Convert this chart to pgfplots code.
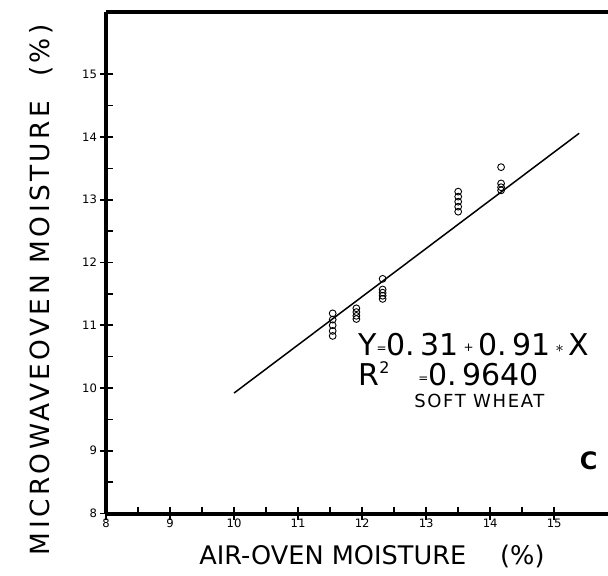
\documentclass[border=0pt]{standalone}
\usepackage{fontspec}
\setmainfont{DejaVu Sans}
\newfontfamily\labfont[LetterSpace=13]{DejaVu Sans}
\newfontfamily\smallfont[LetterSpace=9]{DejaVu Sans}
\usepackage{pgfplots}
\pgfplotsset{compat=1.18}

% one picture pixel = 0.5pt; axis origin sits at pixel (106,513.5)
\begin{document}
\begin{tikzpicture}[x=1pt,y=1pt]
\useasboundingbox (-53,-30.75) rectangle (251,256.75);
\begin{axis}[
    at={(0,0)}, anchor=south west,
    scale only axis, width=251pt, height=251pt,
    xmin=8, xmax=15.84, ymin=8, ymax=16,
    axis x line*=bottom, axis y line*=left,
    axis line style={line width=2pt, black},
    xtick={8,...,15}, ytick={8,...,15},
    minor x tick num=1, minor y tick num=1,
    tick align=inside,
    major tick length=6.5pt, minor tick length=3.5pt,
    every tick/.style={black, line width=0.8pt},
    every major x tick/.append style={yshift=-3pt},
    every major y tick/.append style={xshift=-3pt},
    tick label style={font=\fontsize{5.8}{7}\selectfont},
    /pgf/number format/assume math mode=true,
    xticklabel style={yshift=1pt},
    yticklabel style={xshift=-1pt},
    clip=false,
]
% fitted line as drawn
\addplot[black, line width=0.75pt] coordinates {(10,9.92) (15.39,14.06)};

% observations (soft wheat)
\addplot[only marks, mark=o, mark size=1.7pt, mark options={line width=0.45pt, black}] coordinates {
    (11.54,11.19) (11.54,11.09) (11.54,11.00) (11.54,10.91) (11.54,10.83)
    (11.91,11.27) (11.91,11.21) (11.91,11.15) (11.91,11.10)
    (12.32,11.74) (12.32,11.57) (12.32,11.52) (12.32,11.47) (12.32,11.42)
    (13.50,13.13) (13.50,13.05) (13.50,12.97) (13.50,12.89) (13.50,12.81)
    (14.17,13.52) (14.17,13.26) (14.17,13.20) (14.17,13.15)
};

\draw[line width=2pt] (rel axis cs:0,1) -- (rel axis cs:1,1);
\end{axis}

% axis titles
\node[anchor=base west, inner sep=0pt, font=\fontsize{12.8}{14}\selectfont]
    at (46.5,-25.25) {AIR-OVEN MOISTURE\hspace{17pt}(\%)};
\node[anchor=base west, inner sep=0pt, rotate=90, font=\labfont\fontsize{13.2}{15}\selectfont]
    at (-28,-21) {MICROWAVEOVEN MOISTURE\hspace{12pt}(\%)};

% regression note
\node[anchor=base west, inner sep=0pt, font=\fontsize{15}{17}\selectfont]
    at (126,79.25) {Y\raisebox{1.5pt}{\fontsize{6}{7}\selectfont=}0.\,31\,\raisebox{2pt}{\fontsize{6}{7}\selectfont+}\,0.\,91\,\raisebox{1.5pt}{\fontsize{8}{8}\selectfont$\ast$}\,X};
\node[anchor=base west, inner sep=0pt, font=\fontsize{15}{17}\selectfont]
    at (126,64.25) {R\raisebox{6pt}{\fontsize{8}{9}\selectfont 2}};
\node[anchor=base west, inner sep=0pt, font=\fontsize{15}{17}\selectfont]
    at (156,64.25) {\raisebox{1.5pt}{\fontsize{6}{7}\selectfont=}0.\,9640};
\node[anchor=base west, inner sep=0pt, font=\smallfont\fontsize{9}{10}\selectfont]
    at (154,53.1) {SOFT WHEAT};
\node[font=\fontsize{12}{13}\selectfont\bfseries] at (241.3,26.5) {C};
\end{tikzpicture}
\end{document}
